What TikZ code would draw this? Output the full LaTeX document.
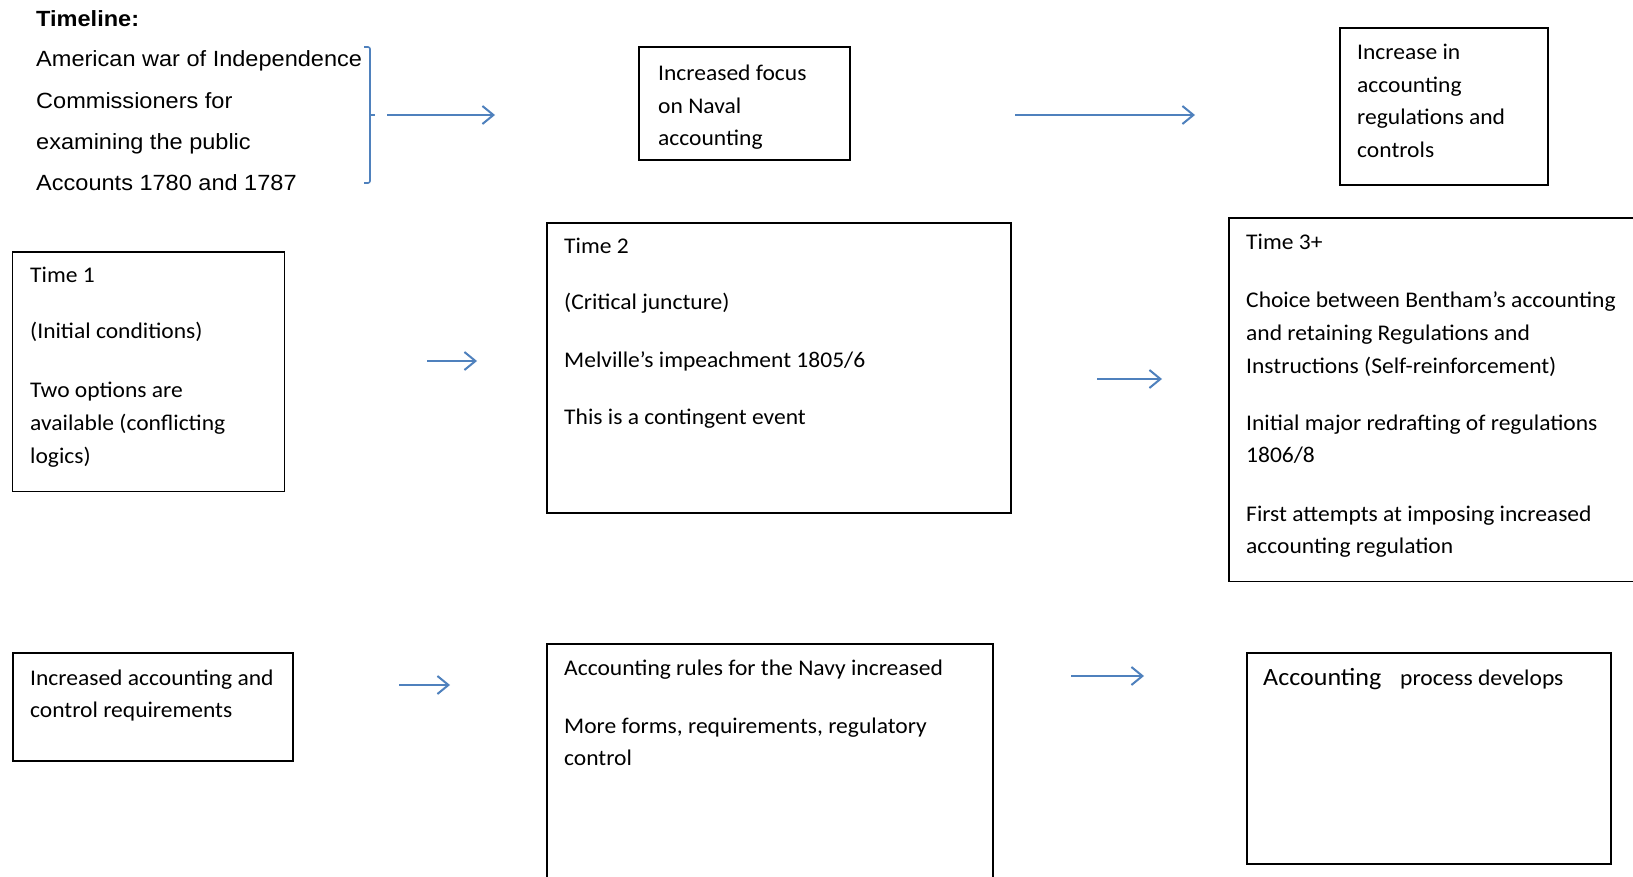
\documentclass[tikz,border=0pt]{standalone}
\usepackage{fontspec}
\setmainfont{Carlito}[FakeStretch=1.05]
\newfontfamily\arialfont{Liberation Sans}[FakeStretch=1.07]
\usetikzlibrary{arrows.meta}
\definecolor{arrowblue}{RGB}{79,129,189}
\tikzset{
  box/.style={draw=black, line width=1.7pt, anchor=north west, inner sep=0pt},
  txt/.style={anchor=base west, inner sep=0pt, font=\fontsize{22.4}{27}\selectfont},
  tl/.style={anchor=base west, inner sep=0pt, font=\arialfont\fontsize{22}{27}\selectfont},
  arr/.style={draw=arrowblue, line width=2pt, -{Straight Barb[length=11pt,width=18pt,line width=2pt]}},
  brk/.style={draw=arrowblue, line width=1.6pt, rounded corners=2pt},
}
\begin{document}
\begin{tikzpicture}[x=1pt,y=-1pt]
\useasboundingbox[fill=white] (0,0) rectangle (1633,877);

% Timeline
\node[tl, font=\arialfont\bfseries\fontsize{22}{27}\selectfont] (tl0) at (36,27) {Timeline:};
\node[tl] (tl1) at (36,67) {American war of Independence};
\node[tl] (tl2) at (36,109) {Commissioners for};
\node[tl] (tl3) at (36,149.5) {examining the public};
\node[tl] (tl4) at (36,191) {Accounts 1780 and 1787};
\draw[brk] (364,47) -- (370,47) -- (370,183) -- (364,183);
\draw[brk] (370,115) -- (375,115);
\coordinate (a1s) at (387,115);
\coordinate (a1e) at (495,115);
\draw[arr] (a1s) -- (a1e);

% Increased focus box
\node[box, minimum width=211, minimum height=113] (focus) at (638,46) {};
\node[txt] (f1) at (658,81) {Increased focus};
\node[txt] (f2) at (658,113.5) {on Naval};
\node[txt] (f3) at (658,146) {accounting};

\coordinate (a2s) at (1015,115);
\coordinate (a2e) at (1195,115);
\draw[arr] (a2s) -- (a2e);

% Increase in box
\node[box, minimum width=208, minimum height=157] (incr) at (1339,27) {};
\node[txt] (i1) at (1357,60) {Increase in};
\node[txt] (i2) at (1357,93) {accounting};
\node[txt] (i3) at (1357,125) {regulations and};
\node[txt] (i4) at (1357,158) {controls};

% Time 1
\node[box, minimum width=272, minimum height=239] (t1) at (11.5,251.5) {};
\node[txt] (t1a) at (30,283) {Time 1};
\node[txt] (t1b) at (30,338) {(Initial conditions)};
\node[txt] (t1c) at (30,397) {Two options are};
\node[txt] (t1d) at (30,430) {available (conflicting};
\node[txt] (t1e) at (30,463) {logics)};

\coordinate (a3s) at (427,361);
\coordinate (a3e) at (477,361);
\draw[arr] (a3s) -- (a3e);

% Time 2
\node[box, minimum width=464, minimum height=290] (t2) at (546,222) {};
\node[txt] (t2a) at (564,254) {Time 2};
\node[txt] (t2b) at (564,310) {(Critical juncture)};
\node[txt] (t2c) at (564,367) {Melville’s impeachment 1805/6};
\node[txt] (t2d) at (564,424) {This is a contingent event};

\coordinate (a4s) at (1097,379);
\coordinate (a4e) at (1162,379);
\draw[arr] (a4s) -- (a4e);

% Time 3+
\node[box, minimum width=420, minimum height=363] (t3) at (1228,217.5) {};
\node[txt] (t3a) at (1246,250) {Time 3+};
\node[txt] (t3b) at (1246,308) {Choice between Bentham’s accounting};
\node[txt] (t3c) at (1246,341) {and retaining Regulations and};
\node[txt] (t3d) at (1246,373) {Instructions (Self-reinforcement)};
\node[txt] (t3e) at (1246,430) {Initial major redrafting of regulations};
\node[txt] (t3f) at (1246,462) {1806/8};
\node[txt] (t3g) at (1246,521) {First attempts at imposing increased};
\node[txt] (t3h) at (1246,553) {accounting regulation};

% Bottom row
\node[box, minimum width=280, minimum height=108] (b1) at (12,652) {};
\node[txt] (b1a) at (30,685) {Increased accounting and};
\node[txt] (b1b) at (30,717) {control requirements};

\coordinate (a5s) at (399,685);
\coordinate (a5e) at (450,685);
\draw[arr] (a5s) -- (a5e);

\node[box, minimum width=446, minimum height=260] (b2) at (546,643) {};
\node[txt] (b2a) at (564,675) {Accounting rules for the Navy increased};
\node[txt] (b2b) at (564,733) {More forms, requirements, regulatory};
\node[txt] (b2c) at (564,765) {control};

\coordinate (a6s) at (1071,676);
\coordinate (a6e) at (1144,676);
\draw[arr] (a6s) -- (a6e);

\node[box, minimum width=364, minimum height=211] (b3) at (1246,652) {};
\node[txt] (b3a) at (1263,685) {\fontsize{24.8}{30}\selectfont Accounting};
\node[txt] (b3b) at (1400,685) {process develops};
\end{tikzpicture}
\end{document}
